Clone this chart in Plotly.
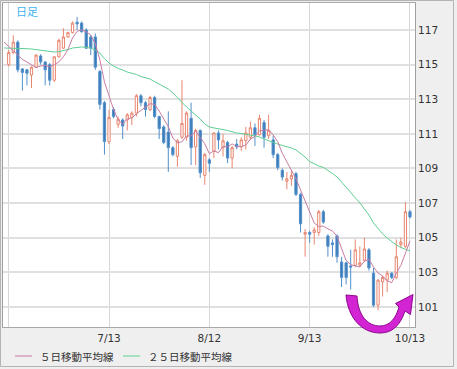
import plotly.graph_objects as go
import pandas as pd

# ---- data -------------------------------------------------------------
dates = pd.bdate_range("2016-06-10", "2016-10-13").strftime("%Y-%m-%d").tolist()
candle_dates = dates[1:]

open_ = [115.0, 115.7, 116.3, 114.75, 114.7, 114.4, 114.85, 115.5, 115.15, 115.0,
         114.1, 115.45, 115.95, 116.6, 116.85, 117.45, 117.4, 117.0, 116.6, 116.6,
         114.6, 112.8, 110.55, 112.4, 111.55, 111.8, 111.8, 111.95, 112.2, 113.2,
         112.8, 112.4, 113.1, 112.0, 111.4, 111.1, 110.2, 109.7, 110.8, 110.8,
         111.9, 110.25, 111.2, 108.6, 109.5, 110.0, 111.05, 110.2, 110.5, 109.6,
         110.4, 110.25, 110.6, 110.8, 111.35, 110.95, 111.65, 110.9, 110.65, 109.8,
         108.9, 108.25, 108.4, 108.7, 107.5, 105.2, 105.3, 105.3, 105.3, 106.5,
         105.1, 104.7, 105.1, 103.6, 103.55, 103.37, 103.4, 103.42, 103.7, 104.3,
         102.95, 101.1, 102.45, 102.55, 102.95, 102.7, 104.6, 104.5, 106.5]
high = [115.85, 116.7, 116.4, 114.8, 114.75, 114.9, 115.6, 115.6, 115.2, 115.1,
        115.5, 116.5, 117.1, 116.9, 117.5, 117.75, 117.5, 117.1, 116.7, 116.8,
        114.7, 112.9, 112.4, 112.55, 112.0, 111.9, 112.2, 112.3, 113.3, 113.3,
        112.9, 113.2, 113.2, 112.05, 111.5, 112.3, 110.3, 110.7, 114.1, 112.3,
        112.8, 111.3, 111.25, 109.9, 109.6, 111.1, 111.2, 111.0, 110.6, 110.3,
        110.7, 110.8, 111.4, 111.7, 111.6, 112.1, 111.8, 112.1, 110.9, 109.9,
        109.0, 108.8, 108.9, 108.8, 107.6, 105.5, 105.4, 105.6, 106.6, 106.6,
        105.2, 104.9, 105.2, 103.9, 103.6, 104.3, 104.9, 104.5, 105.0, 104.4,
        103.25, 102.6, 102.8, 103.1, 103.0, 104.9, 105.0, 107.05, 106.6]
low = [114.9, 115.6, 114.55, 113.5, 113.8, 113.65, 114.8, 115.0, 113.8, 113.8,
       114.0, 115.4, 115.9, 116.55, 116.8, 117.0, 116.85, 115.9, 115.55, 114.7,
       112.4, 109.8, 110.4, 111.9, 111.35, 110.7, 111.2, 111.5, 112.0, 112.6,
       112.0, 112.3, 111.9, 110.7, 110.4, 108.8, 109.7, 109.1, 110.7, 110.6,
       109.2, 109.2, 108.45, 108.05, 108.8, 109.6, 110.1, 109.7, 109.3, 109.0,
       110.1, 110.0, 110.1, 110.65, 110.3, 110.9, 110.2, 110.7, 109.6, 108.9,
       108.3, 107.8, 108.0, 107.4, 105.3, 103.9, 104.7, 104.6, 105.1, 105.8,
       103.9, 103.9, 103.55, 102.15, 102.3, 102.0, 103.3, 103.3, 103.6, 103.1,
       101.0, 100.8, 101.6, 101.85, 102.6, 102.6, 104.4, 104.4, 106.1]
close = [115.7, 116.3, 114.7, 114.55, 114.5, 114.85, 115.55, 115.15, 114.7, 114.1,
         115.45, 116.4, 116.6, 116.85, 117.4, 117.35, 116.9, 115.95, 115.95, 114.85,
         112.7, 110.55, 111.95, 112.0, 111.85, 111.45, 112.1, 112.2, 113.2, 112.8,
         112.4, 113.1, 112.0, 111.3, 110.5, 110.2, 109.8, 110.6, 111.6, 112.2,
         110.2, 111.2, 108.75, 109.8, 109.3, 111.05, 110.65, 110.6, 109.6, 110.2,
         110.25, 110.65, 111.05, 111.35, 110.95, 111.9, 110.8, 111.2, 109.8, 109.05,
         108.5, 108.4, 108.6, 107.5, 105.8, 105.3, 105.2, 105.45, 106.5, 105.9,
         104.5, 104.6, 103.9, 102.7, 102.7, 103.3, 104.3, 103.55, 104.35, 103.25,
         101.1, 102.55, 102.7, 102.95, 102.7, 103.9, 104.75, 106.5, 106.2]
ma5 = [116.30, 116.05, 115.85, 115.55, 115.30, 115.15, 114.98, 114.83, 114.92, 114.95,
       114.87, 114.99, 115.16, 115.45, 115.88, 116.54, 116.92, 117.02, 116.89, 116.71,
       116.20, 115.27, 114.00, 113.20, 112.41, 111.81, 111.56, 111.87, 111.92, 112.16,
       112.35, 112.54, 112.74, 112.70, 112.32, 111.86, 111.42, 110.76, 110.48, 110.54,
       110.88, 110.88, 111.16, 110.79, 110.43, 109.85, 110.02, 109.91, 110.28, 110.24,
       110.42, 110.26, 110.26, 110.35, 110.70, 110.85, 111.18, 111.21, 111.24, 110.93,
       110.55, 109.87, 109.39, 108.87, 108.41, 107.76, 107.12, 106.48, 105.85, 105.65,
       105.67, 105.51, 105.39, 105.08, 104.32, 103.68, 103.44, 103.38, 103.31, 103.64,
       103.75, 103.31, 102.96, 102.79, 102.51, 102.40, 102.96, 103.40, 104.16, 104.81]
ma25 = [115.96, 115.96, 115.96, 115.96, 115.93, 115.92, 115.90, 115.87, 115.82, 115.78,
        115.75, 115.73, 115.75, 115.79, 115.87, 115.96, 115.99, 116.02, 115.99, 115.96,
        115.84, 115.67, 115.35, 115.09, 114.92, 114.78, 114.69, 114.57, 114.50, 114.43,
        114.31, 114.23, 114.17, 114.02, 113.88, 113.76, 113.59, 113.36, 113.07, 112.78,
        112.55, 112.32, 112.09, 111.86, 111.57, 111.40, 111.34, 111.31, 111.25, 111.19,
        111.11, 111.05, 111.02, 110.99, 110.93, 110.88, 110.82, 110.70, 110.59, 110.50,
        110.41, 110.33, 110.27, 110.18, 110.07, 109.89, 109.66, 109.40, 109.26, 109.14,
        109.06, 108.91, 108.71, 108.51, 108.22, 107.93, 107.64, 107.29, 107.01, 106.66,
        106.31, 105.85, 105.50, 105.22, 104.98, 104.78, 104.58, 104.44, 104.32, 104.23]
tick_dates = ["2016-06-13", "2016-07-13", "2016-08-12", "2016-09-13", "2016-10-13"]
tick_labels = ["", "7/13", "8/12", "9/13", "10/13"]
y_ticks = [101, 103, 105, 107, 109, 111, 113, 115, 117]
series_names = ["５日移動平均線", "２５日移動平均線"]
chart_title = "日足"

# ---- geometry helpers (pixel -> paper) ---------------------------------
W, H = 457, 369
ML, MR, MT, MB = 3, 42, 3, 42
PW, PH = W - ML - MR, H - MT - MB


def px(x):
    return (x - ML) / PW


def py(y):
    return (H - MB - y) / PH


PINK = "#c97ba3"
GREEN = "#5fcf93"

fig = go.Figure()
fig.add_trace(go.Candlestick(
    x=candle_dates, open=open_, high=high, low=low, close=close,
    increasing=dict(line=dict(color="#e8866f", width=1), fillcolor="#ffffff"),
    decreasing=dict(line=dict(color="#5290ca", width=1), fillcolor="#3a79b7"),
    showlegend=False, hoverinfo="skip",
))
fig.add_trace(go.Scatter(x=dates, y=ma25, mode="lines", name=series_names[1],
                         line=dict(color=GREEN, width=1), showlegend=False))
fig.add_trace(go.Scatter(x=dates, y=ma5, mode="lines", name=series_names[0],
                         line=dict(color=PINK, width=1), showlegend=False))

tick_font = dict(family="DejaVu Sans", size=10.5, color="#333333")
fig.update_layout(
    width=W, height=H, autosize=False,
    margin=dict(l=ML, r=MR, t=MT, b=MB, pad=0),
    paper_bgcolor="#efefef", plot_bgcolor="#ffffff",
    showlegend=False,
    xaxis=dict(type="category", categoryorder="array", categoryarray=dates,
               range=[-0.25, 90.1], rangeslider=dict(visible=False),
               tickmode="array", tickvals=tick_dates, ticktext=tick_labels,
               showgrid=True, gridcolor="#d6d6d6", gridwidth=1,
               ticks="", tickfont=tick_font, ticklabelstandoff=1,
               showline=True, linecolor="#a8a8a8", linewidth=1, mirror=True,
               zeroline=False, fixedrange=True),
    yaxis=dict(side="right", range=[99.84, 118.56], tickmode="array",
               tickvals=y_ticks, ticktext=[str(v) for v in y_ticks],
               showgrid=True, gridcolor="#e0e0e0", gridwidth=2,
               ticks="", tickfont=tick_font,
               showline=True, linecolor="#a0a0a0", linewidth=1, mirror=True,
               zeroline=False, fixedrange=True),
)

# title inside plot
fig.add_annotation(text=chart_title, xref="paper", yref="paper", x=px(14), y=py(11),
                   xanchor="left", yanchor="middle", showarrow=False,
                   font=dict(family="Noto Sans CJK JP", size=11, color="#3eb2ef"))

# manual legend
for lx, col, name in [(15, PINK, series_names[0]), (123, GREEN, series_names[1])]:
    fig.add_shape(type="line", xref="paper", yref="paper",
                  x0=px(lx), x1=px(lx + 17), y0=py(356), y1=py(356),
                  line=dict(color=col, width=1))
    fig.add_annotation(text=name, xref="paper", yref="paper", x=px(lx + 23), y=py(356),
                       xanchor="left", yanchor="middle", showarrow=False,
                       font=dict(family="Noto Sans CJK JP", size=10.5, color="#333333"))

# outer frame
fig.add_shape(type="rect", xref="paper", yref="paper",
              x0=px(0.5), x1=px(453.5), y0=py(366.5), y1=py(0.5),
              line=dict(color="#b4b4b4", width=1), layer="below")

# magenta U-turn arrow (decoration)
pts = [
    ("M", [(346, 295)]),
    ("L", [(357, 296)]),
    ("C", [(358, 316), (368, 326), (380, 326)]),
    ("C", [(390, 326), (396, 318), (399, 307)]),
    ("L", [(395.5, 303.5)]),
    ("L", [(413, 294.5)]),
    ("L", [(410.5, 314.5)]),
    ("L", [(405, 311)]),
    ("C", [(400, 326), (392, 333), (380, 333)]),
    ("C", [(362, 333), (348, 318), (346, 295)]),
]
path = ""
for cmd, coords in pts:
    path += cmd + " " + " ".join(f"{px(a):.5f},{py(b):.5f}" for a, b in coords) + " "
path += "Z"
fig.add_shape(type="path", xref="paper", yref="paper", path=path,
              fillcolor="#d324d3", line=dict(color="#8c078c", width=1), layer="above")

fig.write_html("out.html", config={"displayModeBar": False},
               post_script="document.body.style.margin='0';document.body.style.overflow='hidden';")
